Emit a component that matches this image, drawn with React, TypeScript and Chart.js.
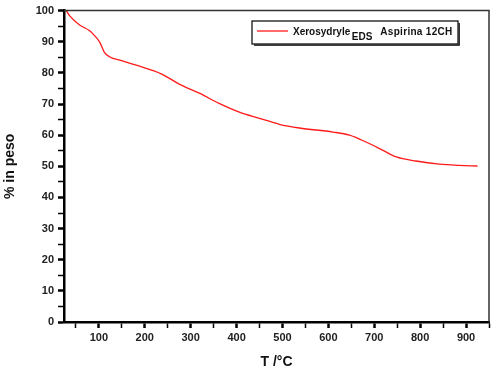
import React, { useEffect, useRef } from "react";
import { Chart, registerables } from "chart.js";

Chart.register(...registerables);

const temperatures = [29, 36, 58, 80, 91, 102, 112, 123, 149, 185, 236, 275, 320, 362, 406, 450, 493, 537, 610, 646, 682, 718, 748, 791, 842, 885, 925];
const weightPercent = [100, 98.4, 95.4, 93.5, 91.9, 89.8, 86.6, 85.2, 83.9, 82.3, 79.7, 76.4, 73.4, 70.2, 67.4, 65.4, 63.5, 62.3, 61.0, 60.0, 57.8, 55.2, 53.0, 51.7, 50.7, 50.3, 50.1];

const legendMain = "Xerosydryle";
const legendSub = "EDS";
const legendRest = "Aspirina 12CH";
const xTitle = "T /°C";
const yTitle = "% in peso";

const FONT = "'Liberation Sans', Arial, sans-serif";

const frameAndLegend = {
  id: "frameAndLegend",
  afterDatasetsDraw(chart: any) {
    const { ctx, chartArea } = chart;
    const { left, right, top, bottom } = chartArea;
    ctx.save();
    ctx.strokeStyle = "#333";
    ctx.lineWidth = 1.5;
    ctx.beginPath();
    ctx.moveTo(left, top);
    ctx.lineTo(right, top);
    ctx.lineTo(right, bottom);
    ctx.stroke();

    const bx = 252, by = 21, bw = 206, bh = 23;
    ctx.fillStyle = "#fff";
    ctx.fillRect(bx, by, bw, bh);
    ctx.strokeStyle = "#000";
    ctx.lineWidth = 1.2;
    ctx.strokeRect(bx, by, bw, bh);
    ctx.beginPath();
    ctx.moveTo(bx + bw + 1.2, by + 2);
    ctx.lineTo(bx + bw + 1.2, by + bh + 1.2);
    ctx.lineTo(bx + 2, by + bh + 1.2);
    ctx.stroke();

    const ds = chart.data.datasets[0];
    ctx.strokeStyle = ds.borderColor;
    ctx.lineWidth = 1.3;
    ctx.beginPath();
    ctx.moveTo(257, 31);
    ctx.lineTo(288, 31);
    ctx.stroke();

    ctx.fillStyle = "#111";
    ctx.textBaseline = "alphabetic";
    ctx.textAlign = "left";
    ctx.font = `bold 10px ${FONT}`;
    let x = 293;
    ctx.fillText(legendMain, x, 35);
    x += ctx.measureText(legendMain).width + 1.5;
    ctx.fillText(legendSub, x, 40);
    x += ctx.measureText(legendSub).width + 8;
    (ctx as any).letterSpacing = "0.3px";
    ctx.fillText(legendRest, x, 35);
    ctx.restore();
  },
};

export default function App() {
  const canvasRef = useRef<HTMLCanvasElement | null>(null);

  useEffect(() => {
    if (!canvasRef.current) return;
    const tickFont = { family: FONT, size: 11, weight: "bold" as const };
    const chart = new Chart(canvasRef.current, {
      type: "line",
      data: {
        datasets: [
          {
            label: `${legendMain} ${legendSub} ${legendRest}`,
            data: temperatures.map((t, i) => ({ x: t, y: weightPercent[i] })),
            borderColor: "#ff1a1a",
            borderWidth: 1.3,
            pointRadius: 0,
            cubicInterpolationMode: "monotone",
            fill: false,
          },
        ],
      },
      options: {
        animation: false,
        responsive: true,
        maintainAspectRatio: false,
        layout: { padding: { top: 9, right: 14, left: 0, bottom: 0 } },
        plugins: {
          legend: { display: false },
          tooltip: { enabled: false },
        },
        scales: {
          x: {
            type: "linear",
            min: 24,
            max: 950,
            afterFit(scale: any) {
              scale.height = 60;
            },
            border: { display: true, color: "#000", width: 2.5 },
            grid: {
              display: true,
              drawOnChartArea: false,
              drawTicks: true,
              tickLength: 6,
              tickColor: "#000",
              tickWidth: (c: any) => (c.tick && c.tick.value % 100 === 0 ? 2.5 : 1.5),
            },
            ticks: {
              stepSize: 50,
              includeBounds: false,
              autoSkip: false,
              maxRotation: 0,
              padding: 3,
              color: "#222",
              font: tickFont,
              callback: (v: any) => (Number(v) % 100 === 0 ? String(v) : ""),
            },
            title: {
              display: true,
              text: xTitle,
              color: "#111",
              font: { family: FONT, size: 14, weight: "bold" },
              padding: { top: 4, bottom: 11 },
            },
          },
          y: {
            type: "linear",
            min: 0,
            max: 100,
            afterFit(scale: any) {
              scale.width = 64;
            },
            border: { display: true, color: "#000", width: 2.5 },
            grid: {
              display: true,
              drawOnChartArea: false,
              drawTicks: true,
              tickLength: 6,
              tickColor: "#000",
              tickWidth: (c: any) => (c.tick && c.tick.value % 10 === 0 ? 2.5 : 1.5),
            },
            ticks: {
              stepSize: 5,
              autoSkip: false,
              padding: 4,
              color: "#222",
              font: tickFont,
              callback: (v: any) => (Number(v) % 10 === 0 ? String(v) : ""),
            },
            title: {
              display: true,
              text: yTitle,
              color: "#111",
              font: { family: FONT, size: 14, weight: "bold" },
              padding: { top: 2, bottom: 0 },
            },
          },
        },
      },
      plugins: [frameAndLegend],
    });
    return () => chart.destroy();
  }, []);

  return (
    <div style={{ position: "absolute", left: 0, top: 0, width: 503, height: 382, background: "#fff" }}>
      <canvas ref={canvasRef} />
    </div>
  );
}
